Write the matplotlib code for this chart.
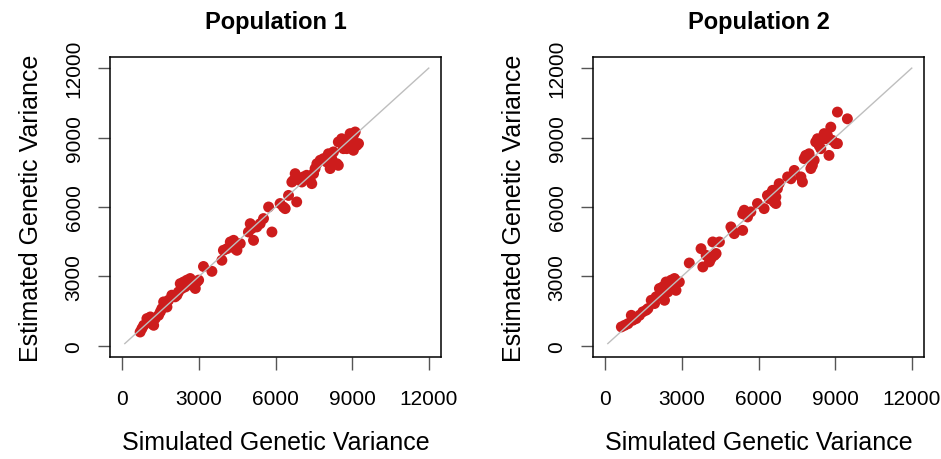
import matplotlib
matplotlib.use("Agg")
import matplotlib.pyplot as plt
import numpy as np

plt.rcParams['font.family'] = ['Liberation Sans', 'DejaVu Sans']

# Population 1: simulated vs estimated genetic variance
pop1_sim = [700, 770, 965, 1100, 1230, 1160, 1420, 1550, 1620, 1750, 1940, 2070,
            2200, 2330, 2400, 2530, 2600, 2730, 2860, 2920, 2990, 2660, 2270,
            840, 1030, 1290, 1490, 1810, 2140, 2460, 2790,
            3180, 3510, 3900, 3960, 4100, 4230, 4290, 4420, 4490, 4620, 4360,
            4940, 5010, 5070, 5140, 5270, 5400, 5530, 5730, 5860,
            6180, 6310, 6380, 6510, 6830,
            6640, 6700, 6770, 6900, 7030, 7090, 7220, 7360, 7420, 7490, 7550,
            7620, 7750, 7880, 8010, 8070, 8140, 8200, 8400, 8460, 8270, 8590,
            8660, 8790, 8850, 8920, 8990, 9050, 9120, 9180, 9250, 9050, 8720, 8460]
pop1_est = [600, 750, 1180, 1250, 890, 960, 1320, 1610, 1900, 1680, 2190, 2120,
            2330, 2480, 2760, 2840, 2760, 2620, 2480, 2760, 2840, 2910, 2690,
            890, 1110, 1180, 1470, 1970, 2190, 2550, 2690,
            3430, 3220, 3700, 4130, 4200, 4490, 4350, 4200, 4130, 4420, 4560,
            4920, 5280, 5070, 4560, 5140, 5280, 5500, 6000, 4920,
            6150, 6000, 5930, 6500, 6220,
            7080, 7150, 7440, 7220, 7080, 7300, 7370, 7150, 7010, 7440, 7660,
            7870, 8020, 8090, 7940, 8300, 7660, 8090, 7870, 7800, 8380, 8950,
            8520, 8520, 8880, 9170, 8660, 9090, 9240, 8660, 8740, 8450, 8740, 8810]

# Population 2
pop2_sim = [630, 760, 890, 1020, 1080, 1210, 1340, 1470, 1600, 1670, 1800, 1930,
            1990, 2120, 2250, 2320, 2380, 2510, 2580, 2710, 2770, 2840, 2900,
            2190, 2450,
            3290, 3750, 3820, 3950, 4080, 4140, 4210, 4270, 4340, 4470,
            4920, 4990, 5050, 5380, 5380, 5440, 5570, 5700, 5960, 6220,
            6350, 6420, 6480, 6550, 6610, 6680, 6740, 6810, 6680,
            7140, 7270, 7400, 7660, 7720, 7790, 7850, 7980, 8050, 8110, 8180,
            8240, 8310, 8370, 8440, 8570, 8630, 8700, 8760, 8830, 8890, 9020,
            9090, 9090, 9480]
pop2_est = [820, 890, 960, 1320, 1110, 1180, 1320, 1470, 1540, 1610, 1970, 1830,
            2120, 2480, 2550, 1970, 2760, 2690, 2840, 2910, 2400, 2760, 2760,
            2330, 2330,
            3580, 4200, 3410, 3910, 3630, 3770, 4490, 3910, 3990, 4490,
            5140, 4990, 4850, 4990, 5710, 5860, 5570, 5790, 6150, 5930,
            6500, 6360, 6580, 6720, 6220, 6150, 6790, 7010, 6430,
            7300, 7220, 7580, 7300, 7080, 8090, 8230, 8300, 7660, 7800, 8020,
            8810, 8950, 8660, 8520, 9170, 8950, 9090, 8230, 9450, 8880, 8740,
            8740, 10100, 9810]

panels = [("Population 1", pop1_sim, pop1_est), ("Population 2", pop2_sim, pop2_est)]
ticks = [0, 3000, 6000, 9000, 12000]

W, H = 941, 460
fig = plt.figure(figsize=(W / 100, H / 100), dpi=100)
box_left = [110, 593]
box_w = 331
for bl, (title, sim, est) in zip(box_left, panels):
    ax = fig.add_axes([bl / W, (H - 358) / H, box_w / W, 300 / H])
    ax.scatter(sim, est, s=62, color='#CD1C1C', edgecolors='none', zorder=2)
    ax.plot([100, 12000], [100, 12000], color='#BEBEBE', lw=1, zorder=3)
    ax.set_xlim(-480, 12480)
    ax.set_ylim(-480, 12480)
    ax.set_xticks(ticks)
    ax.set_yticks(ticks)
    ax.set_yticklabels([str(t) for t in ticks], rotation=90, va='center')
    ax.tick_params(direction='out', length=9, width=1, color='#555555',
                   labelsize=15)
    ax.tick_params(axis='x', pad=14)
    ax.tick_params(axis='y', pad=10)
    for sp in ax.spines.values():
        sp.set_linewidth(1.1)
    cx = (bl + box_w / 2) / W
    fig.text(cx, 1 - 22 / H, title, fontsize=17, fontweight='bold',
             ha='center', va='center')
    fig.text(cx, 1 - 443 / H, "Simulated Genetic Variance", fontsize=18,
             ha='center', va='center')
    fig.text((bl - 79) / W, (H - 208) / H, "Estimated Genetic Variance",
             fontsize=18, rotation=90, ha='center', va='center')

fig.savefig("out.png", dpi=100)
